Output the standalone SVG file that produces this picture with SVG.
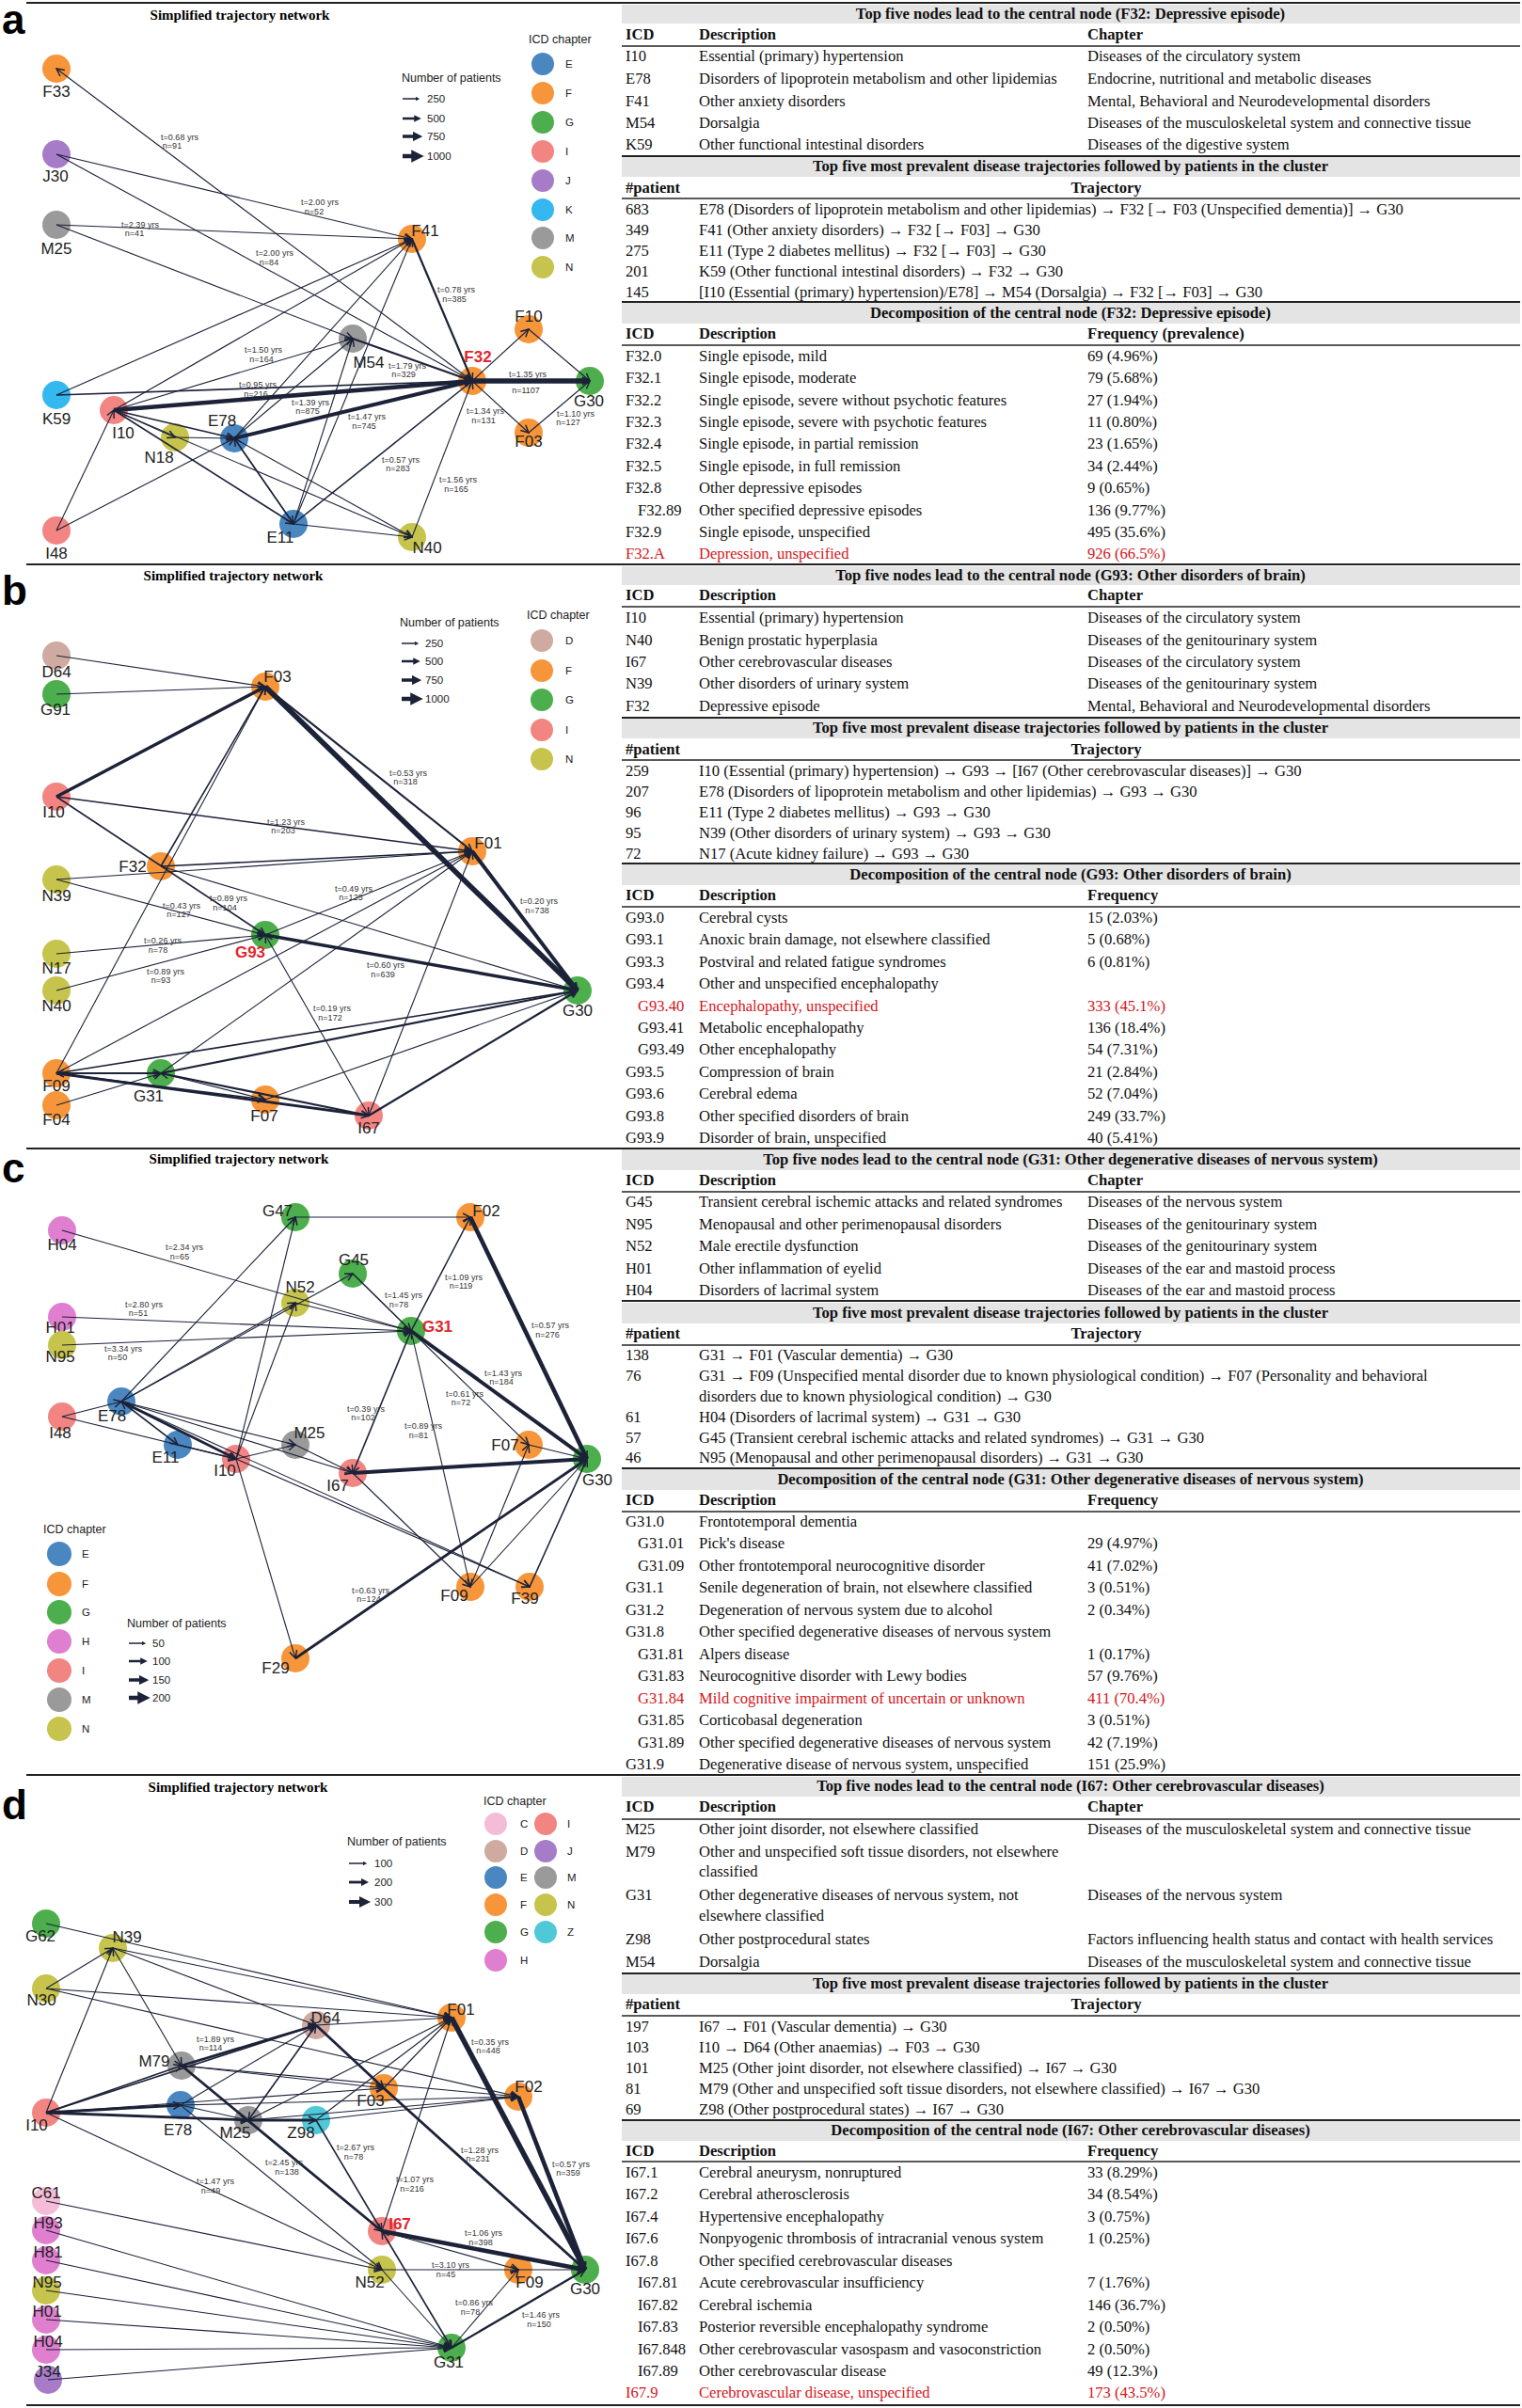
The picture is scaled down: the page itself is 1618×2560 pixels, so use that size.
<svg xmlns="http://www.w3.org/2000/svg" width="1618" height="2560" viewBox="0 0 1618 2560">
<style>
.bg{fill:#fff}
.e{stroke:#1c2238;fill:none;marker-end:url(#ar)}
.d{marker-start:url(#ar)}
.w1{stroke-width:1.1}.w15{stroke-width:1.6}.w2{stroke-width:2.2}.w25{stroke-width:2.8}.w3{stroke-width:3.4}.w35{stroke-width:4}.w4{stroke-width:4.6}.w5{stroke-width:5.6}
.nl{font-family:"Liberation Sans",Arial,sans-serif;font-size:17px;fill:#222;text-anchor:middle}
.red{fill:#e0262c;font-weight:bold}
.el{font-family:"Liberation Sans",Arial,sans-serif;font-size:9px;fill:#333;text-anchor:middle}
.lg{font-family:"Liberation Sans",Arial,sans-serif;font-size:11.5px;fill:#222}
.lgt{font-family:"Liberation Sans",Arial,sans-serif;font-size:12.5px;fill:#222}
.la{stroke:#1c2238;marker-end:url(#al)}
.pl{font-family:"Liberation Sans",Arial,sans-serif;font-size:44px;font-weight:bold;fill:#000}
.st{font-family:"Liberation Serif","Times New Roman",serif;font-size:15px;font-weight:bold;fill:#000;text-anchor:middle}
.t{font-family:"Liberation Serif","Times New Roman",serif;font-size:16.6px;fill:#111}
.tb{font-family:"Liberation Serif","Times New Roman",serif;font-size:16.6px;fill:#111;font-weight:bold}
.tc{text-anchor:middle}
.r{fill:#d4161c}
.band{fill:#e4e4e4}
.hl{stroke:#222;stroke-width:1.6}
.sep{stroke:#222;stroke-width:2}
.cE{fill:#4a86c0}.cF{fill:#f7953a}.cG{fill:#4cae4c}.cI{fill:#f28482}.cJ{fill:#a67cc9}.cK{fill:#35b8f0}.cM{fill:#9a9a9a}.cN{fill:#c6c44c}.cD{fill:#cfaaa0}.cH{fill:#e07fcf}.cC{fill:#f5bcd8}.cZ{fill:#4fc8d8}
</style>
<defs>
<marker id="ar" viewBox="0 0 10 10" refX="9" refY="5" markerWidth="10" markerHeight="10" markerUnits="userSpaceOnUse" orient="auto-start-reverse"><path d="M1,1 L9,5 L1,9" fill="none" stroke="#1c2238" stroke-width="1.5"/></marker>
<marker id="al" viewBox="0 0 10 10" refX="5" refY="5" markerWidth="3" markerHeight="3" orient="auto"><path d="M0,0 L10,5 L0,10 z" fill="#1c2238"/></marker>
</defs>
<rect class="bg" x="0" y="0" width="1618" height="2560"/>

<g id="separators">
<line class="sep" x1="28" y1="3" x2="1616" y2="3"/>
<line class="sep" x1="28" y1="600" x2="1616" y2="600"/>
<line class="sep" x1="28" y1="1221" x2="1616" y2="1221"/>
<line class="sep" x1="28" y1="1887" x2="1616" y2="1887"/>
<line class="sep" x1="28" y1="2557" x2="1616" y2="2557"/>
</g>

<g id="panel-a">
<text class="pl" x="2" y="36">a</text>
<text class="st" x="255" y="21">Simplified trajectory network</text>
<g id="a-nodes">
<g id="a-F33"><circle class="cF" cx="60" cy="73" r="15"/><text class="nl" x="60" y="103">F33</text></g>
<g id="a-J30"><circle class="cJ" cx="60" cy="164" r="15"/><text class="nl" x="59" y="193">J30</text></g>
<g id="a-M25"><circle class="cM" cx="60" cy="239" r="15"/><text class="nl" x="60" y="270">M25</text></g>
<g id="a-K59"><circle class="cK" cx="60" cy="420" r="15"/><text class="nl" x="60" y="451">K59</text></g>
<g id="a-I10"><circle class="cI" cx="121" cy="436" r="15"/><text class="nl" x="131" y="466">I10</text></g>
<g id="a-N18"><circle class="cN" cx="186" cy="465" r="15"/><text class="nl" x="169" y="492">N18</text></g>
<g id="a-E78"><circle class="cE" cx="249" cy="466" r="15"/><text class="nl" x="236" y="453">E78</text></g>
<g id="a-I48"><circle class="cI" cx="60" cy="564" r="15"/><text class="nl" x="60" y="594">I48</text></g>
<g id="a-E11"><circle class="cE" cx="312" cy="557" r="15"/><text class="nl" x="298" y="577">E11</text></g>
<g id="a-N40"><circle class="cN" cx="438" cy="571" r="15"/><text class="nl" x="454" y="588">N40</text></g>
<g id="a-M54"><circle class="cM" cx="375" cy="360" r="15"/><text class="nl" x="392" y="391">M54</text></g>
<g id="a-F41"><circle class="cF" cx="438" cy="254" r="15"/><text class="nl" x="452" y="251">F41</text></g>
<g id="a-F32"><circle class="cF" cx="502" cy="405" r="15"/><text class="nl red" x="508" y="385">F32</text></g>
<g id="a-F10"><circle class="cF" cx="562" cy="350" r="15"/><text class="nl" x="562" y="342">F10</text></g>
<g id="a-F03"><circle class="cF" cx="562" cy="460" r="15"/><text class="nl" x="562" y="475">F03</text></g>
<g id="a-G30"><circle class="cG" cx="627" cy="405" r="15"/><text class="nl" x="626" y="432">G30</text></g>
</g>
<g id="a-connectors">
<line class="e w1" x1="502" y1="405" x2="60" y2="73"/>
<line class="e w1" x1="60" y1="164" x2="438" y2="254"/>
<line class="e w1" x1="60" y1="164" x2="502" y2="405"/>
<line class="e w1" x1="60" y1="239" x2="438" y2="254"/>
<line class="e w1" x1="60" y1="239" x2="375" y2="360"/>
<line class="e w1" x1="60" y1="420" x2="438" y2="254"/>
<line class="e w15" x1="60" y1="420" x2="502" y2="405"/>
<line class="e w1" x1="121" y1="436" x2="438" y2="254"/>
<line class="e w1" x1="121" y1="436" x2="375" y2="360"/>
<line class="e w4" x1="121" y1="436" x2="502" y2="405"/>
<line class="e w1" x1="121" y1="436" x2="186" y2="465"/>
<line class="e w15" x1="121" y1="436" x2="249" y2="466"/>
<line class="e w15" x1="121" y1="436" x2="312" y2="557"/>
<line class="e w1" x1="121" y1="436" x2="438" y2="571"/>
<line class="e w1" x1="186" y1="465" x2="249" y2="466"/>
<line class="e w1" x1="60" y1="564" x2="121" y2="436"/>
<line class="e w1" x1="60" y1="564" x2="249" y2="466"/>
<line class="e w35" x1="249" y1="466" x2="502" y2="405"/>
<line class="e w1" x1="249" y1="466" x2="375" y2="360"/>
<line class="e w1" x1="249" y1="466" x2="438" y2="254"/>
<line class="e w15" x1="249" y1="466" x2="312" y2="557"/>
<line class="e w1" x1="249" y1="466" x2="438" y2="571"/>
<line class="e w1" x1="312" y1="557" x2="438" y2="254"/>
<line class="e w1" x1="312" y1="557" x2="375" y2="360"/>
<line class="e w15" x1="312" y1="557" x2="502" y2="405"/>
<line class="e w1" x1="312" y1="557" x2="438" y2="571"/>
<line class="e w1" x1="312" y1="557" x2="249" y2="466"/>
<line class="e w2" x1="375" y1="360" x2="502" y2="405"/>
<line class="e w2" x1="438" y1="254" x2="502" y2="405"/>
<line class="e w1" x1="438" y1="571" x2="502" y2="405"/>
<line class="e w1" x1="502" y1="405" x2="562" y2="350"/>
<line class="e w1" x1="502" y1="405" x2="562" y2="460"/>
<line class="e w5" x1="502" y1="405" x2="627" y2="405"/>
<line class="e w1" x1="562" y1="350" x2="627" y2="405"/>
<line class="e w1" x1="562" y1="460" x2="627" y2="405"/>
</g>
<g id="a-edge-labels">
<text class="el" x="191" y="149">t=0.68 yrs</text><text class="el" x="183" y="158">n=91</text>
<text class="el" x="340" y="218">t=2.00 yrs</text><text class="el" x="334" y="228">n=52</text>
<text class="el" x="149" y="242">t=2.39 yrs</text><text class="el" x="143" y="251">n=41</text>
<text class="el" x="292" y="272">t=2.00 yrs</text><text class="el" x="286" y="282">n=84</text>
<text class="el" x="485" y="311">t=0.78 yrs</text><text class="el" x="483" y="321">n=385</text>
<text class="el" x="280" y="375">t=1.50 yrs</text><text class="el" x="278" y="385">n=164</text>
<text class="el" x="433" y="392">t=1.79 yrs</text><text class="el" x="429" y="401">n=329</text>
<text class="el" x="274" y="412">t=0.95 yrs</text><text class="el" x="272" y="422">n=216</text>
<text class="el" x="330" y="431">t=1.39 yrs</text><text class="el" x="327" y="440">n=875</text>
<text class="el" x="561" y="401">t=1.35 yrs</text><text class="el" x="559" y="418">n=1107</text>
<text class="el" x="390" y="446">t=1.47 yrs</text><text class="el" x="387" y="456">n=745</text>
<text class="el" x="516" y="440">t=1.34 yrs</text><text class="el" x="514" y="450">n=131</text>
<text class="el" x="612" y="443">t=1.10 yrs</text><text class="el" x="604" y="452">n=127</text>
<text class="el" x="426" y="492">t=0.57 yrs</text><text class="el" x="423" y="501">n=283</text>
<text class="el" x="487" y="513">t=1.56 yrs</text><text class="el" x="485" y="523">n=165</text>
</g>
<g id="a-legend">
<text class="lgt" x="427" y="87">Number of patients</text>
<line class="la" x1="428" y1="105" x2="444" y2="105" stroke-width="1.5"/><text class="lg" x="454" y="109">250</text>
<line class="la" x1="428" y1="126" x2="444" y2="126" stroke-width="2.5"/><text class="lg" x="454" y="130">500</text>
<line class="la" x1="428" y1="145" x2="444" y2="145" stroke-width="3.5"/><text class="lg" x="454" y="149">750</text>
<line class="la" x1="428" y1="166" x2="444" y2="166" stroke-width="4.5"/><text class="lg" x="454" y="170">1000</text>
<text class="lgt" x="562" y="46">ICD chapter</text>
<circle class="cE" cx="577" cy="68" r="12"/><text class="lg" x="601" y="72">E</text>
<circle class="cF" cx="577" cy="99" r="12"/><text class="lg" x="601" y="103">F</text>
<circle class="cG" cx="577" cy="130" r="12"/><text class="lg" x="601" y="134">G</text>
<circle class="cI" cx="577" cy="161" r="12"/><text class="lg" x="601" y="165">I</text>
<circle class="cJ" cx="577" cy="192" r="12"/><text class="lg" x="601" y="196">J</text>
<circle class="cK" cx="577" cy="223" r="12"/><text class="lg" x="601" y="227">K</text>
<circle class="cM" cx="577" cy="253" r="12"/><text class="lg" x="601" y="257">M</text>
<circle class="cN" cx="577" cy="284" r="12"/><text class="lg" x="601" y="288">N</text>
</g>
</g>

<g id="table-a">
<rect class="band" x="661" y="5" width="955" height="20"/>
<text class="tb tc" x="1138" y="20">Top five nodes lead to the central node (F32: Depressive episode)</text>
<text class="tb" x="665" y="42">ICD</text><text class="tb" x="743" y="42">Description</text><text class="tb" x="1156" y="42">Chapter</text>
<line class="hl" x1="661" y1="49" x2="1616" y2="49"/>
<text class="t" x="665" y="65">I10</text><text class="t" x="743" y="65">Essential (primary) hypertension</text><text class="t" x="1156" y="65">Diseases of the circulatory system</text>
<text class="t" x="665" y="89">E78</text><text class="t" x="743" y="89">Disorders of lipoprotein metabolism and other lipidemias</text><text class="t" x="1156" y="89">Endocrine, nutritional and metabolic diseases</text>
<text class="t" x="665" y="113">F41</text><text class="t" x="743" y="113">Other anxiety disorders</text><text class="t" x="1156" y="113">Mental, Behavioral and Neurodevelopmental disorders</text>
<text class="t" x="665" y="136">M54</text><text class="t" x="743" y="136">Dorsalgia</text><text class="t" x="1156" y="136">Diseases of the musculoskeletal system and connective tissue</text>
<text class="t" x="665" y="159">K59</text><text class="t" x="743" y="159">Other functional intestinal disorders</text><text class="t" x="1156" y="159">Diseases of the digestive system</text>
<line class="sep" x1="661" y1="166" x2="1616" y2="166"/>
<rect class="band" x="661" y="167" width="955" height="21"/>
<text class="tb tc" x="1138" y="182">Top five most prevalent disease trajectories followed by patients in the cluster</text>
<text class="tb" x="665" y="205">#patient</text><text class="tb tc" x="1176" y="205">Trajectory</text>
<line class="hl" x1="661" y1="211" x2="1616" y2="211"/>
<text class="t" x="665" y="228">683</text><text class="t" x="743" y="228">E78 (Disorders of lipoprotein metabolism and other lipidemias) → F32 [→ F03 (Unspecified dementia)] → G30</text>
<text class="t" x="665" y="250">349</text><text class="t" x="743" y="250">F41 (Other anxiety disorders) → F32 [→ F03] → G30</text>
<text class="t" x="665" y="272">275</text><text class="t" x="743" y="272">E11 (Type 2 diabetes mellitus) → F32 [→ F03] → G30</text>
<text class="t" x="665" y="294">201</text><text class="t" x="743" y="294">K59 (Other functional intestinal disorders) → F32 → G30</text>
<text class="t" x="665" y="316">145</text><text class="t" x="743" y="316">[I10 (Essential (primary) hypertension)/E78] → M54 (Dorsalgia) → F32 [→ F03] → G30</text>
<line class="sep" x1="661" y1="321" x2="1616" y2="321"/>
<rect class="band" x="661" y="322" width="955" height="22"/>
<text class="tb tc" x="1138" y="338">Decomposition of the central node (F32: Depressive episode)</text>
<text class="tb" x="665" y="360">ICD</text><text class="tb" x="743" y="360">Description</text><text class="tb" x="1156" y="360">Frequency (prevalence)</text>
<line class="hl" x1="661" y1="367" x2="1616" y2="367"/>
<text class="t" x="665" y="384">F32.0</text><text class="t" x="743" y="384">Single episode, mild</text><text class="t" x="1156" y="384">69 (4.96%)</text>
<text class="t" x="665" y="407">F32.1</text><text class="t" x="743" y="407">Single episode, moderate</text><text class="t" x="1156" y="407">79 (5.68%)</text>
<text class="t" x="665" y="431">F32.2</text><text class="t" x="743" y="431">Single episode, severe without psychotic features</text><text class="t" x="1156" y="431">27 (1.94%)</text>
<text class="t" x="665" y="454">F32.3</text><text class="t" x="743" y="454">Single episode, severe with psychotic features</text><text class="t" x="1156" y="454">11 (0.80%)</text>
<text class="t" x="665" y="477">F32.4</text><text class="t" x="743" y="477">Single episode, in partial remission</text><text class="t" x="1156" y="477">23 (1.65%)</text>
<text class="t" x="665" y="501">F32.5</text><text class="t" x="743" y="501">Single episode, in full remission</text><text class="t" x="1156" y="501">34 (2.44%)</text>
<text class="t" x="665" y="524">F32.8</text><text class="t" x="743" y="524">Other depressive episodes</text><text class="t" x="1156" y="524">9 (0.65%)</text>
<text class="t" x="678" y="548">F32.89</text><text class="t" x="743" y="548">Other specified depressive episodes</text><text class="t" x="1156" y="548">136 (9.77%)</text>
<text class="t" x="665" y="571">F32.9</text><text class="t" x="743" y="571">Single episode, unspecified</text><text class="t" x="1156" y="571">495 (35.6%)</text>
<text class="t r" x="665" y="594">F32.A</text><text class="t r" x="743" y="594">Depression, unspecified</text><text class="t r" x="1156" y="594">926 (66.5%)</text>
</g>

<g id="panel-b">
<text class="pl" x="2" y="643">b</text>
<text class="st" x="248" y="617">Simplified trajectory network</text>
<g id="b-nodes">
<g id="b-D64"><circle class="cD" cx="60" cy="697" r="15"/><text class="nl" x="60" y="720">D64</text></g>
<g id="b-G91"><circle class="cG" cx="60" cy="738" r="15"/><text class="nl" x="59" y="760">G91</text></g>
<g id="b-F03"><circle class="cF" cx="282" cy="730" r="15"/><text class="nl" x="295" y="725">F03</text></g>
<g id="b-I10"><circle class="cI" cx="60" cy="847" r="15"/><text class="nl" x="57" y="869">I10</text></g>
<g id="b-F32"><circle class="cF" cx="171" cy="921" r="15"/><text class="nl" x="141" y="927">F32</text></g>
<g id="b-N39"><circle class="cN" cx="60" cy="935" r="15"/><text class="nl" x="60" y="958">N39</text></g>
<g id="b-F01"><circle class="cF" cx="502" cy="905" r="15"/><text class="nl" x="519" y="902">F01</text></g>
<g id="b-G93"><circle class="cG" cx="282" cy="994" r="15"/><text class="nl red" x="266" y="1018">G93</text></g>
<g id="b-N17"><circle class="cN" cx="60" cy="1014" r="15"/><text class="nl" x="60" y="1035">N17</text></g>
<g id="b-N40"><circle class="cN" cx="60" cy="1053" r="15"/><text class="nl" x="60" y="1075">N40</text></g>
<g id="b-G30"><circle class="cG" cx="614" cy="1053" r="15"/><text class="nl" x="614" y="1080">G30</text></g>
<g id="b-F09"><circle class="cF" cx="60" cy="1141" r="15"/><text class="nl" x="60" y="1160">F09</text></g>
<g id="b-F04"><circle class="cF" cx="60" cy="1175" r="15"/><text class="nl" x="60" y="1196">F04</text></g>
<g id="b-G31"><circle class="cG" cx="171" cy="1141" r="15"/><text class="nl" x="158" y="1171">G31</text></g>
<g id="b-F07"><circle class="cF" cx="282" cy="1169" r="15"/><text class="nl" x="281" y="1192">F07</text></g>
<g id="b-I67"><circle class="cI" cx="392" cy="1186" r="15"/><text class="nl" x="392" y="1205">I67</text></g>
</g>
<g id="b-connectors">
<line class="e w1" x1="60" y1="697" x2="282" y2="730"/>
<line class="e w1" x1="60" y1="738" x2="282" y2="730"/>
<line class="e w3" x1="60" y1="847" x2="282" y2="730"/>
<line class="e w15" x1="60" y1="847" x2="502" y2="905"/>
<line class="e w15" x1="60" y1="847" x2="282" y2="994"/>
<line class="e w15" x1="171" y1="921" x2="282" y2="730"/>
<line class="e w1" x1="60" y1="1141" x2="282" y2="730"/>
<line class="e w15" x1="171" y1="921" x2="502" y2="905"/>
<line class="e w1" x1="60" y1="935" x2="502" y2="905"/>
<line class="e w1" x1="60" y1="935" x2="282" y2="994"/>
<line class="e w1" x1="171" y1="921" x2="614" y2="1053"/>
<line class="e w5" x1="282" y1="730" x2="614" y2="1053"/>
<line class="e w2" x1="282" y1="730" x2="502" y2="905"/>
<line class="e w35" x1="502" y1="905" x2="614" y2="1053"/>
<line class="e w1" x1="282" y1="994" x2="502" y2="905"/>
<line class="e w3" x1="282" y1="994" x2="614" y2="1053"/>
<line class="e d w1" x1="282" y1="994" x2="392" y2="1186"/>
<line class="e w1" x1="60" y1="1014" x2="282" y2="994"/>
<line class="e w1" x1="60" y1="1053" x2="282" y2="994"/>
<line class="e w1" x1="60" y1="1141" x2="502" y2="905"/>
<line class="e w1" x1="171" y1="1141" x2="502" y2="905"/>
<line class="e w1" x1="392" y1="1186" x2="502" y2="905"/>
<line class="e w15" x1="60" y1="1141" x2="614" y2="1053"/>
<line class="e w2" x1="171" y1="1141" x2="614" y2="1053"/>
<line class="e w1" x1="282" y1="1169" x2="614" y2="1053"/>
<line class="e w2" x1="392" y1="1186" x2="614" y2="1053"/>
<line class="e d w2" x1="60" y1="1141" x2="171" y2="1141"/>
<line class="e w15" x1="60" y1="1141" x2="282" y2="1169"/>
<line class="e w25" x1="60" y1="1141" x2="392" y2="1186"/>
<line class="e w2" x1="392" y1="1186" x2="171" y2="1141"/>
<line class="e w1" x1="171" y1="1141" x2="282" y2="1169"/>
<line class="e w1" x1="60" y1="1175" x2="171" y2="1141"/>
</g>
<g id="b-edge-labels">
<text class="el" x="434" y="825">t=0.53 yrs</text><text class="el" x="431" y="834">n=318</text>
<text class="el" x="304" y="877">t=1.23 yrs</text><text class="el" x="301" y="886">n=203</text>
<text class="el" x="376" y="948">t=0.49 yrs</text><text class="el" x="373" y="957">n=125</text>
<text class="el" x="573" y="961">t=0.20 yrs</text><text class="el" x="571" y="971">n=738</text>
<text class="el" x="193" y="966">t=0.43 yrs</text><text class="el" x="190" y="975">n=127</text>
<text class="el" x="243" y="958">t=0.89 yrs</text><text class="el" x="239" y="968">n=104</text>
<text class="el" x="173" y="1003">t=0.26 yrs</text><text class="el" x="168" y="1013">n=78</text>
<text class="el" x="410" y="1029">t=0.60 yrs</text><text class="el" x="407" y="1039">n=639</text>
<text class="el" x="176" y="1036">t=0.89 yrs</text><text class="el" x="171" y="1045">n=93</text>
<text class="el" x="353" y="1075">t=0.19 yrs</text><text class="el" x="351" y="1085">n=172</text>
</g>
<g id="b-legend">
<text class="lgt" x="425" y="666">Number of patients</text>
<line class="la" x1="427" y1="684" x2="443" y2="684" stroke-width="1.5"/><text class="lg" x="452" y="688">250</text>
<line class="la" x1="427" y1="703" x2="443" y2="703" stroke-width="2.5"/><text class="lg" x="452" y="707">500</text>
<line class="la" x1="427" y1="723" x2="443" y2="723" stroke-width="3.5"/><text class="lg" x="452" y="727">750</text>
<line class="la" x1="427" y1="743" x2="443" y2="743" stroke-width="4.5"/><text class="lg" x="452" y="747">1000</text>
<text class="lgt" x="560" y="658">ICD chapter</text>
<circle class="cD" cx="576" cy="681" r="12"/><text class="lg" x="601" y="685">D</text>
<circle class="cF" cx="576" cy="713" r="12"/><text class="lg" x="601" y="717">F</text>
<circle class="cG" cx="576" cy="744" r="12"/><text class="lg" x="601" y="748">G</text>
<circle class="cI" cx="576" cy="776" r="12"/><text class="lg" x="601" y="780">I</text>
<circle class="cN" cx="576" cy="807" r="12"/><text class="lg" x="601" y="811">N</text>
</g>
</g>

<g id="table-b">
<rect class="band" x="661" y="602" width="955" height="20"/>
<text class="tb tc" x="1138" y="617">Top five nodes lead to the central node (G93: Other disorders of brain)</text>
<text class="tb" x="665" y="638">ICD</text><text class="tb" x="743" y="638">Description</text><text class="tb" x="1156" y="638">Chapter</text>
<line class="hl" x1="661" y1="645" x2="1616" y2="645"/>
<text class="t" x="665" y="662">I10</text><text class="t" x="743" y="662">Essential (primary) hypertension</text><text class="t" x="1156" y="662">Diseases of the circulatory system</text>
<text class="t" x="665" y="686">N40</text><text class="t" x="743" y="686">Benign prostatic hyperplasia</text><text class="t" x="1156" y="686">Diseases of the genitourinary system</text>
<text class="t" x="665" y="709">I67</text><text class="t" x="743" y="709">Other cerebrovascular diseases</text><text class="t" x="1156" y="709">Diseases of the circulatory system</text>
<text class="t" x="665" y="732">N39</text><text class="t" x="743" y="732">Other disorders of urinary system</text><text class="t" x="1156" y="732">Diseases of the genitourinary system</text>
<text class="t" x="665" y="756">F32</text><text class="t" x="743" y="756">Depressive episode</text><text class="t" x="1156" y="756">Mental, Behavioral and Neurodevelopmental disorders</text>
<line class="sep" x1="661" y1="763" x2="1616" y2="763"/>
<rect class="band" x="661" y="764" width="955" height="21"/>
<text class="tb tc" x="1138" y="779">Top five most prevalent disease trajectories followed by patients in the cluster</text>
<text class="tb" x="665" y="802">#patient</text><text class="tb tc" x="1176" y="802">Trajectory</text>
<line class="hl" x1="661" y1="808" x2="1616" y2="808"/>
<text class="t" x="665" y="825">259</text><text class="t" x="743" y="825">I10 (Essential (primary) hypertension) → G93 → [I67 (Other cerebrovascular diseases)] → G30</text>
<text class="t" x="665" y="847">207</text><text class="t" x="743" y="847">E78 (Disorders of lipoprotein metabolism and other lipidemias) → G93 → G30</text>
<text class="t" x="665" y="869">96</text><text class="t" x="743" y="869">E11 (Type 2 diabetes mellitus) → G93 → G30</text>
<text class="t" x="665" y="891">95</text><text class="t" x="743" y="891">N39 (Other disorders of urinary system) → G93 → G30</text>
<text class="t" x="665" y="913">72</text><text class="t" x="743" y="913">N17 (Acute kidney failure) → G93 → G30</text>
<line class="sep" x1="661" y1="918" x2="1616" y2="918"/>
<rect class="band" x="661" y="919" width="955" height="22"/>
<text class="tb tc" x="1138" y="935">Decomposition of the central node (G93: Other disorders of brain)</text>
<text class="tb" x="665" y="957">ICD</text><text class="tb" x="743" y="957">Description</text><text class="tb" x="1156" y="957">Frequency</text>
<line class="hl" x1="661" y1="964" x2="1616" y2="964"/>
<text class="t" x="665" y="981">G93.0</text><text class="t" x="743" y="981">Cerebral cysts</text><text class="t" x="1156" y="981">15 (2.03%)</text>
<text class="t" x="665" y="1004">G93.1</text><text class="t" x="743" y="1004">Anoxic brain damage, not elsewhere classified</text><text class="t" x="1156" y="1004">5 (0.68%)</text>
<text class="t" x="665" y="1028">G93.3</text><text class="t" x="743" y="1028">Postviral and related fatigue syndromes</text><text class="t" x="1156" y="1028">6 (0.81%)</text>
<text class="t" x="665" y="1051">G93.4</text><text class="t" x="743" y="1051">Other and unspecified encephalopathy</text>
<text class="t r" x="678" y="1075">G93.40</text><text class="t r" x="743" y="1075">Encephalopathy, unspecified</text><text class="t r" x="1156" y="1075">333 (45.1%)</text>
<text class="t" x="678" y="1098">G93.41</text><text class="t" x="743" y="1098">Metabolic encephalopathy</text><text class="t" x="1156" y="1098">136 (18.4%)</text>
<text class="t" x="678" y="1121">G93.49</text><text class="t" x="743" y="1121">Other encephalopathy</text><text class="t" x="1156" y="1121">54 (7.31%)</text>
<text class="t" x="665" y="1145">G93.5</text><text class="t" x="743" y="1145">Compression of brain</text><text class="t" x="1156" y="1145">21 (2.84%)</text>
<text class="t" x="665" y="1168">G93.6</text><text class="t" x="743" y="1168">Cerebral edema</text><text class="t" x="1156" y="1168">52 (7.04%)</text>
<text class="t" x="665" y="1192">G93.8</text><text class="t" x="743" y="1192">Other specified disorders of brain</text><text class="t" x="1156" y="1192">249 (33.7%)</text>
<text class="t" x="665" y="1215">G93.9</text><text class="t" x="743" y="1215">Disorder of brain, unspecified</text><text class="t" x="1156" y="1215">40 (5.41%)</text>
</g>

<g id="panel-c">
<text class="pl" x="2" y="1257">c</text>
<text class="st" x="254" y="1237">Simplified trajectory network</text>
<g id="c-nodes">
<g id="c-H04"><circle class="cH" cx="66" cy="1308" r="15"/><text class="nl" x="66" y="1329">H04</text></g>
<g id="c-H01"><circle class="cH" cx="66" cy="1400" r="15"/><text class="nl" x="64" y="1417">H01</text></g>
<g id="c-N95"><circle class="cN" cx="66" cy="1430" r="15"/><text class="nl" x="64" y="1448">N95</text></g>
<g id="c-I48"><circle class="cI" cx="66" cy="1506" r="15"/><text class="nl" x="64" y="1529">I48</text></g>
<g id="c-E78"><circle class="cE" cx="129" cy="1490" r="15"/><text class="nl" x="119" y="1511">E78</text></g>
<g id="c-E11"><circle class="cE" cx="189" cy="1536" r="15"/><text class="nl" x="176" y="1555">E11</text></g>
<g id="c-I10"><circle class="cI" cx="251" cy="1551" r="15"/><text class="nl" x="239" y="1569">I10</text></g>
<g id="c-M25"><circle class="cM" cx="314" cy="1536" r="15"/><text class="nl" x="329" y="1529">M25</text></g>
<g id="c-I67"><circle class="cI" cx="375" cy="1566" r="15"/><text class="nl" x="359" y="1585">I67</text></g>
<g id="c-G47"><circle class="cG" cx="314" cy="1294" r="15"/><text class="nl" x="295" y="1293">G47</text></g>
<g id="c-F02"><circle class="cF" cx="500" cy="1294" r="15"/><text class="nl" x="517" y="1293">F02</text></g>
<g id="c-G45"><circle class="cG" cx="375" cy="1354" r="15"/><text class="nl" x="376" y="1345">G45</text></g>
<g id="c-N52"><circle class="cN" cx="314" cy="1385" r="15"/><text class="nl" x="319" y="1374">N52</text></g>
<g id="c-G31"><circle class="cG" cx="437" cy="1415" r="15"/><text class="nl red" x="465" y="1416">G31</text></g>
<g id="c-F07"><circle class="cF" cx="562" cy="1536" r="15"/><text class="nl" x="537" y="1542">F07</text></g>
<g id="c-G30"><circle class="cG" cx="624" cy="1551" r="15"/><text class="nl" x="635" y="1579">G30</text></g>
<g id="c-F09"><circle class="cF" cx="500" cy="1687" r="15"/><text class="nl" x="483" y="1702">F09</text></g>
<g id="c-F39"><circle class="cF" cx="563" cy="1687" r="15"/><text class="nl" x="558" y="1705">F39</text></g>
<g id="c-F29"><circle class="cF" cx="314" cy="1763" r="15"/><text class="nl" x="293" y="1779">F29</text></g>
</g>
<g id="c-connectors">
<line class="e w1" x1="66" y1="1308" x2="437" y2="1415"/>
<line class="e w1" x1="66" y1="1400" x2="437" y2="1415"/>
<line class="e w1" x1="66" y1="1430" x2="437" y2="1415"/>
<line class="e w1" x1="314" y1="1294" x2="500" y2="1294"/>
<line class="e w4" x1="500" y1="1294" x2="624" y2="1551"/>
<line class="e w15" x1="375" y1="1354" x2="437" y2="1415"/>
<line class="e w1" x1="314" y1="1385" x2="437" y2="1415"/>
<line class="e w1" x1="129" y1="1490" x2="375" y2="1354"/>
<line class="e w1" x1="129" y1="1490" x2="314" y2="1385"/>
<line class="e w1" x1="129" y1="1490" x2="314" y2="1294"/>
<line class="e w1" x1="251" y1="1551" x2="314" y2="1294"/>
<line class="e w1" x1="251" y1="1551" x2="314" y2="1385"/>
<line class="e w15" x1="437" y1="1415" x2="500" y2="1294"/>
<line class="e w35" x1="437" y1="1415" x2="624" y2="1551"/>
<line class="e w1" x1="437" y1="1415" x2="562" y2="1536"/>
<line class="e w1" x1="562" y1="1536" x2="624" y2="1551"/>
<line class="e d w15" x1="437" y1="1415" x2="375" y2="1566"/>
<line class="e w1" x1="437" y1="1415" x2="500" y2="1687"/>
<line class="e w35" x1="375" y1="1566" x2="624" y2="1551"/>
<line class="e w1" x1="375" y1="1566" x2="500" y2="1687"/>
<line class="e w1" x1="66" y1="1506" x2="129" y2="1490"/>
<line class="e w1" x1="66" y1="1506" x2="251" y2="1551"/>
<line class="e d w15" x1="129" y1="1490" x2="189" y2="1536"/>
<line class="e w25" x1="129" y1="1490" x2="251" y2="1551"/>
<line class="e w1" x1="129" y1="1490" x2="314" y2="1536"/>
<line class="e w1" x1="129" y1="1490" x2="375" y2="1566"/>
<line class="e w1" x1="129" y1="1490" x2="563" y2="1687"/>
<line class="e w15" x1="189" y1="1536" x2="251" y2="1551"/>
<line class="e w1" x1="251" y1="1551" x2="314" y2="1536"/>
<line class="e w1" x1="251" y1="1551" x2="314" y2="1763"/>
<line class="e w1" x1="251" y1="1551" x2="563" y2="1687"/>
<line class="e w1" x1="314" y1="1536" x2="375" y2="1566"/>
<line class="e w1" x1="500" y1="1687" x2="562" y2="1536"/>
<line class="e w1" x1="500" y1="1687" x2="624" y2="1551"/>
<line class="e w15" x1="563" y1="1687" x2="624" y2="1551"/>
<line class="e w25" x1="314" y1="1763" x2="624" y2="1551"/>
</g>
<g id="c-edge-labels">
<text class="el" x="196" y="1329">t=2.34 yrs</text><text class="el" x="191" y="1339">n=65</text>
<text class="el" x="153" y="1390">t=2.80 yrs</text><text class="el" x="147" y="1399">n=51</text>
<text class="el" x="131" y="1437">t=3.34 yrs</text><text class="el" x="125" y="1446">n=50</text>
<text class="el" x="429" y="1380">t=1.45 yrs</text><text class="el" x="424" y="1390">n=78</text>
<text class="el" x="493" y="1361">t=1.09 yrs</text><text class="el" x="490" y="1370">n=119</text>
<text class="el" x="585" y="1412">t=0.57 yrs</text><text class="el" x="582" y="1422">n=276</text>
<text class="el" x="535" y="1463">t=1.43 yrs</text><text class="el" x="533" y="1472">n=184</text>
<text class="el" x="494" y="1485">t=0.61 yrs</text><text class="el" x="490" y="1494">n=72</text>
<text class="el" x="389" y="1501">t=0.39 yrs</text><text class="el" x="386" y="1510">n=102</text>
<text class="el" x="450" y="1519">t=0.89 yrs</text><text class="el" x="445" y="1529">n=81</text>
<text class="el" x="394" y="1694">t=0.63 yrs</text><text class="el" x="392" y="1703">n=124</text>
</g>
<g id="c-legend">
<text class="lgt" x="46" y="1630">ICD chapter</text>
<circle class="cE" cx="63" cy="1652" r="13"/><text class="lg" x="87" y="1656">E</text>
<circle class="cF" cx="63" cy="1684" r="13"/><text class="lg" x="87" y="1688">F</text>
<circle class="cG" cx="63" cy="1714" r="13"/><text class="lg" x="87" y="1718">G</text>
<circle class="cH" cx="63" cy="1745" r="13"/><text class="lg" x="87" y="1749">H</text>
<circle class="cI" cx="63" cy="1776" r="13"/><text class="lg" x="87" y="1780">I</text>
<circle class="cM" cx="63" cy="1807" r="13"/><text class="lg" x="87" y="1811">M</text>
<circle class="cN" cx="63" cy="1838" r="13"/><text class="lg" x="87" y="1842">N</text>
<text class="lgt" x="135" y="1730">Number of patients</text>
<line class="la" x1="137" y1="1747" x2="153" y2="1747" stroke-width="1.5"/><text class="lg" x="162" y="1751">50</text>
<line class="la" x1="137" y1="1766" x2="153" y2="1766" stroke-width="2.5"/><text class="lg" x="162" y="1770">100</text>
<line class="la" x1="137" y1="1786" x2="153" y2="1786" stroke-width="3.5"/><text class="lg" x="162" y="1790">150</text>
<line class="la" x1="137" y1="1805" x2="153" y2="1805" stroke-width="4.5"/><text class="lg" x="162" y="1809">200</text>
</g>
</g>

<g id="table-c">
<rect class="band" x="661" y="1222" width="955" height="22"/>
<text class="tb tc" x="1138" y="1238">Top five nodes lead to the central node (G31: Other degenerative diseases of nervous system)</text>
<text class="tb" x="665" y="1260">ICD</text><text class="tb" x="743" y="1260">Description</text><text class="tb" x="1156" y="1260">Chapter</text>
<line class="hl" x1="661" y1="1267" x2="1616" y2="1267"/>
<text class="t" x="665" y="1283">G45</text><text class="t" x="743" y="1283">Transient cerebral ischemic attacks and related syndromes</text><text class="t" x="1156" y="1283">Diseases of the nervous system</text>
<text class="t" x="665" y="1307">N95</text><text class="t" x="743" y="1307">Menopausal and other perimenopausal disorders</text><text class="t" x="1156" y="1307">Diseases of the genitourinary system</text>
<text class="t" x="665" y="1330">N52</text><text class="t" x="743" y="1330">Male erectile dysfunction</text><text class="t" x="1156" y="1330">Diseases of the genitourinary system</text>
<text class="t" x="665" y="1354">H01</text><text class="t" x="743" y="1354">Other inflammation of eyelid</text><text class="t" x="1156" y="1354">Diseases of the ear and mastoid process</text>
<text class="t" x="665" y="1377">H04</text><text class="t" x="743" y="1377">Disorders of lacrimal system</text><text class="t" x="1156" y="1377">Diseases of the ear and mastoid process</text>
<line class="sep" x1="661" y1="1383" x2="1616" y2="1383"/>
<rect class="band" x="661" y="1385" width="955" height="22"/>
<text class="tb tc" x="1138" y="1401">Top five most prevalent disease trajectories followed by patients in the cluster</text>
<text class="tb" x="665" y="1423">#patient</text><text class="tb tc" x="1176" y="1423">Trajectory</text>
<line class="hl" x1="661" y1="1430" x2="1616" y2="1430"/>
<text class="t" x="665" y="1446">138</text><text class="t" x="743" y="1446">G31 → F01 (Vascular dementia) → G30</text>
<text class="t" x="665" y="1468">76</text><text class="t" x="743" y="1468">G31 → F09 (Unspecified mental disorder due to known physiological condition) → F07 (Personality and behavioral</text>
<text class="t" x="743" y="1490">disorders due to known physiological condition) → G30</text>
<text class="t" x="665" y="1512">61</text><text class="t" x="743" y="1512">H04 (Disorders of lacrimal system) → G31 → G30</text>
<text class="t" x="665" y="1534">57</text><text class="t" x="743" y="1534">G45 (Transient cerebral ischemic attacks and related syndromes) → G31 → G30</text>
<text class="t" x="665" y="1555">46</text><text class="t" x="743" y="1555">N95 (Menopausal and other perimenopausal disorders) → G31 → G30</text>
<line class="sep" x1="661" y1="1561" x2="1616" y2="1561"/>
<rect class="band" x="661" y="1562" width="955" height="22"/>
<text class="tb tc" x="1138" y="1578">Decomposition of the central node (G31: Other degenerative diseases of nervous system)</text>
<text class="tb" x="665" y="1600">ICD</text><text class="tb" x="743" y="1600">Description</text><text class="tb" x="1156" y="1600">Frequency</text>
<line class="hl" x1="661" y1="1607" x2="1616" y2="1607"/>
<text class="t" x="665" y="1623">G31.0</text><text class="t" x="743" y="1623">Frontotemporal dementia</text>
<text class="t" x="678" y="1646">G31.01</text><text class="t" x="743" y="1646">Pick's disease</text><text class="t" x="1156" y="1646">29 (4.97%)</text>
<text class="t" x="678" y="1670">G31.09</text><text class="t" x="743" y="1670">Other frontotemporal neurocognitive disorder</text><text class="t" x="1156" y="1670">41 (7.02%)</text>
<text class="t" x="665" y="1693">G31.1</text><text class="t" x="743" y="1693">Senile degeneration of brain, not elsewhere classified</text><text class="t" x="1156" y="1693">3 (0.51%)</text>
<text class="t" x="665" y="1717">G31.2</text><text class="t" x="743" y="1717">Degeneration of nervous system due to alcohol</text><text class="t" x="1156" y="1717">2 (0.34%)</text>
<text class="t" x="665" y="1740">G31.8</text><text class="t" x="743" y="1740">Other specified degenerative diseases of nervous system</text>
<text class="t" x="678" y="1764">G31.81</text><text class="t" x="743" y="1764">Alpers disease</text><text class="t" x="1156" y="1764">1 (0.17%)</text>
<text class="t" x="678" y="1787">G31.83</text><text class="t" x="743" y="1787">Neurocognitive disorder with Lewy bodies</text><text class="t" x="1156" y="1787">57 (9.76%)</text>
<text class="t r" x="678" y="1811">G31.84</text><text class="t r" x="743" y="1811">Mild cognitive impairment of uncertain or unknown</text><text class="t r" x="1156" y="1811">411 (70.4%)</text>
<text class="t" x="678" y="1834">G31.85</text><text class="t" x="743" y="1834">Corticobasal degeneration</text><text class="t" x="1156" y="1834">3 (0.51%)</text>
<text class="t" x="678" y="1858">G31.89</text><text class="t" x="743" y="1858">Other specified degenerative diseases of nervous system</text><text class="t" x="1156" y="1858">42 (7.19%)</text>
<text class="t" x="665" y="1881">G31.9</text><text class="t" x="743" y="1881">Degenerative disease of nervous system, unspecified</text><text class="t" x="1156" y="1881">151 (25.9%)</text>
</g>

<g id="panel-d">
<text class="pl" x="2" y="1934">d</text>
<text class="st" x="253" y="1905">Simplified trajectory network</text>
<g id="d-nodes">
<g id="d-G62"><circle class="cG" cx="49" cy="2045" r="15"/><text class="nl" x="43" y="2064">G62</text></g>
<g id="d-N39"><circle class="cN" cx="120" cy="2071" r="15"/><text class="nl" x="135" y="2065">N39</text></g>
<g id="d-N30"><circle class="cN" cx="49" cy="2114" r="15"/><text class="nl" x="44" y="2132">N30</text></g>
<g id="d-I10"><circle class="cI" cx="49" cy="2246" r="15"/><text class="nl" x="39" y="2265">I10</text></g>
<g id="d-M79"><circle class="cM" cx="193" cy="2196" r="15"/><text class="nl" x="164" y="2197">M79</text></g>
<g id="d-E78"><circle class="cE" cx="192" cy="2238" r="15"/><text class="nl" x="189" y="2270">E78</text></g>
<g id="d-M25"><circle class="cM" cx="264" cy="2254" r="15"/><text class="nl" x="250" y="2273">M25</text></g>
<g id="d-Z98"><circle class="cZ" cx="336" cy="2254" r="15"/><text class="nl" x="320" y="2273">Z98</text></g>
<g id="d-D64"><circle class="cD" cx="336" cy="2153" r="15"/><text class="nl" x="346" y="2151">D64</text></g>
<g id="d-F03"><circle class="cF" cx="408" cy="2220" r="15"/><text class="nl" x="394" y="2239">F03</text></g>
<g id="d-F01"><circle class="cF" cx="480" cy="2145" r="15"/><text class="nl" x="490" y="2142">F01</text></g>
<g id="d-F02"><circle class="cF" cx="551" cy="2229" r="15"/><text class="nl" x="562" y="2224">F02</text></g>
<g id="d-I67"><circle class="cI" cx="406" cy="2372" r="15"/><text class="nl red" x="425" y="2370">I67</text></g>
<g id="d-N52"><circle class="cN" cx="406" cy="2413" r="15"/><text class="nl" x="393" y="2432">N52</text></g>
<g id="d-F09"><circle class="cF" cx="551" cy="2413" r="15"/><text class="nl" x="563" y="2432">F09</text></g>
<g id="d-G30"><circle class="cG" cx="622" cy="2413" r="15"/><text class="nl" x="622" y="2439">G30</text></g>
<g id="d-G31"><circle class="cG" cx="480" cy="2496" r="15"/><text class="nl" x="477" y="2517">G31</text></g>
<g id="d-C61"><circle class="cC" cx="49" cy="2340" r="15"/><text class="nl" x="49" y="2337">C61</text></g>
<g id="d-H93"><circle class="cH" cx="49" cy="2371" r="15"/><text class="nl" x="51" y="2369">H93</text></g>
<g id="d-H81"><circle class="cH" cx="49" cy="2403" r="15"/><text class="nl" x="51" y="2400">H81</text></g>
<g id="d-N95"><circle class="cN" cx="49" cy="2435" r="15"/><text class="nl" x="50" y="2432">N95</text></g>
<g id="d-H01"><circle class="cH" cx="49" cy="2466" r="15"/><text class="nl" x="50" y="2463">H01</text></g>
<g id="d-H04"><circle class="cH" cx="49" cy="2498" r="15"/><text class="nl" x="51" y="2495">H04</text></g>
<g id="d-J34"><circle class="cJ" cx="51" cy="2530" r="15"/><text class="nl" x="51" y="2527">J34</text></g>
</g>
<g id="d-connectors">
<line class="e w1" x1="49" y1="2045" x2="480" y2="2145"/>
<line class="e w1" x1="49" y1="2114" x2="120" y2="2071"/>
<line class="e w1" x1="49" y1="2114" x2="480" y2="2145"/>
<line class="e w1" x1="49" y1="2114" x2="551" y2="2229"/>
<line class="e w1" x1="49" y1="2246" x2="120" y2="2071"/>
<line class="e w1" x1="120" y1="2071" x2="480" y2="2145"/>
<line class="e w1" x1="120" y1="2071" x2="336" y2="2153"/>
<line class="e w1" x1="120" y1="2071" x2="193" y2="2196"/>
<line class="e w25" x1="193" y1="2196" x2="336" y2="2153"/>
<line class="e w1" x1="193" y1="2196" x2="408" y2="2220"/>
<line class="e w1" x1="193" y1="2196" x2="551" y2="2229"/>
<line class="e w25" x1="193" y1="2196" x2="406" y2="2372"/>
<line class="e w15" x1="49" y1="2246" x2="193" y2="2196"/>
<line class="e w15" x1="49" y1="2246" x2="336" y2="2153"/>
<line class="e w25" x1="49" y1="2246" x2="192" y2="2238"/>
<line class="e w25" x1="49" y1="2246" x2="264" y2="2254"/>
<line class="e w1" x1="49" y1="2246" x2="408" y2="2220"/>
<line class="e w1" x1="49" y1="2246" x2="406" y2="2413"/>
<line class="e w1" x1="192" y1="2238" x2="336" y2="2153"/>
<line class="e w1" x1="192" y1="2238" x2="551" y2="2229"/>
<line class="e w1" x1="192" y1="2238" x2="264" y2="2254"/>
<line class="e w1" x1="192" y1="2238" x2="406" y2="2413"/>
<line class="e d w15" x1="264" y1="2254" x2="336" y2="2153"/>
<line class="e w25" x1="264" y1="2254" x2="336" y2="2254"/>
<line class="e w1" x1="264" y1="2254" x2="480" y2="2145"/>
<line class="e w1" x1="264" y1="2254" x2="551" y2="2229"/>
<line class="e w1" x1="336" y1="2254" x2="480" y2="2145"/>
<line class="e w1" x1="336" y1="2254" x2="551" y2="2229"/>
<line class="e w15" x1="336" y1="2254" x2="406" y2="2372"/>
<line class="e w1" x1="336" y1="2153" x2="480" y2="2145"/>
<line class="e w25" x1="336" y1="2153" x2="408" y2="2220"/>
<line class="e w1" x1="408" y1="2220" x2="480" y2="2145"/>
<line class="e w25" x1="408" y1="2220" x2="622" y2="2413"/>
<line class="e w5" x1="480" y1="2145" x2="622" y2="2413"/>
<line class="e w4" x1="551" y1="2229" x2="622" y2="2413"/>
<line class="e w1" x1="406" y1="2372" x2="480" y2="2145"/>
<line class="e w4" x1="406" y1="2372" x2="622" y2="2413"/>
<line class="e w1" x1="406" y1="2372" x2="551" y2="2413"/>
<line class="e w1" x1="406" y1="2413" x2="551" y2="2413"/>
<line class="e w1" x1="406" y1="2413" x2="480" y2="2496"/>
<line class="e d w15" x1="480" y1="2496" x2="406" y2="2372"/>
<line class="e w1" x1="480" y1="2496" x2="551" y2="2413"/>
<line class="e w2" x1="480" y1="2496" x2="622" y2="2413"/>
<line class="e w1" x1="551" y1="2413" x2="622" y2="2413"/>
<line class="e w1" x1="49" y1="2340" x2="406" y2="2413"/>
<line class="e w1" x1="49" y1="2371" x2="480" y2="2496"/>
<line class="e w1" x1="49" y1="2403" x2="480" y2="2496"/>
<line class="e w1" x1="49" y1="2435" x2="480" y2="2496"/>
<line class="e w1" x1="49" y1="2466" x2="480" y2="2496"/>
<line class="e w1" x1="49" y1="2498" x2="480" y2="2496"/>
<line class="e w1" x1="51" y1="2530" x2="480" y2="2496"/>
</g>
<g id="d-edge-labels">
<text class="el" x="229" y="2171">t=1.89 yrs</text><text class="el" x="224" y="2180">n=114</text>
<text class="el" x="521" y="2174">t=0.35 yrs</text><text class="el" x="519" y="2183">n=448</text>
<text class="el" x="378" y="2286">t=2.67 yrs</text><text class="el" x="376" y="2296">n=78</text>
<text class="el" x="302" y="2302">t=2.45 yrs</text><text class="el" x="305" y="2312">n=138</text>
<text class="el" x="510" y="2289">t=1.28 yrs</text><text class="el" x="508" y="2298">n=231</text>
<text class="el" x="607" y="2304">t=0.57 yrs</text><text class="el" x="604" y="2313">n=359</text>
<text class="el" x="229" y="2322">t=1.47 yrs</text><text class="el" x="224" y="2332">n=49</text>
<text class="el" x="441" y="2320">t=1.07 yrs</text><text class="el" x="438" y="2330">n=216</text>
<text class="el" x="514" y="2377">t=1.06 yrs</text><text class="el" x="511" y="2387">n=398</text>
<text class="el" x="479" y="2411">t=3.10 yrs</text><text class="el" x="474" y="2421">n=45</text>
<text class="el" x="504" y="2451">t=0.86 yrs</text><text class="el" x="500" y="2461">n=78</text>
<text class="el" x="575" y="2464">t=1.46 yrs</text><text class="el" x="573" y="2474">n=150</text>
</g>
<g id="d-legend">
<text class="lgt" x="369" y="1962">Number of patients</text>
<line class="la" x1="371" y1="1981" x2="388" y2="1981" stroke-width="1.5"/><text class="lg" x="398" y="1985">100</text>
<line class="la" x1="371" y1="2001" x2="388" y2="2001" stroke-width="2.8"/><text class="lg" x="398" y="2005">200</text>
<line class="la" x1="371" y1="2022" x2="388" y2="2022" stroke-width="4"/><text class="lg" x="398" y="2026">300</text>
<text class="lgt" x="514" y="1919">ICD chapter</text>
<circle class="cC" cx="527" cy="1939" r="12"/><text class="lg" x="553" y="1943">C</text>
<circle class="cD" cx="527" cy="1968" r="12"/><text class="lg" x="553" y="1972">D</text>
<circle class="cE" cx="527" cy="1996" r="12"/><text class="lg" x="553" y="2000">E</text>
<circle class="cF" cx="527" cy="2025" r="12"/><text class="lg" x="553" y="2029">F</text>
<circle class="cG" cx="527" cy="2054" r="12"/><text class="lg" x="553" y="2058">G</text>
<circle class="cH" cx="527" cy="2084" r="12"/><text class="lg" x="553" y="2088">H</text>
<circle class="cI" cx="580" cy="1939" r="12"/><text class="lg" x="603" y="1943">I</text>
<circle class="cJ" cx="580" cy="1968" r="12"/><text class="lg" x="603" y="1972">J</text>
<circle class="cM" cx="580" cy="1996" r="12"/><text class="lg" x="603" y="2000">M</text>
<circle class="cN" cx="580" cy="2025" r="12"/><text class="lg" x="603" y="2029">N</text>
<circle class="cZ" cx="580" cy="2054" r="12"/><text class="lg" x="603" y="2058">Z</text>
</g>
</g>

<g id="table-d">
<rect class="band" x="661" y="1889" width="955" height="21"/>
<text class="tb tc" x="1138" y="1904">Top five nodes lead to the central node (I67: Other cerebrovascular diseases)</text>
<text class="tb" x="665" y="1926">ICD</text><text class="tb" x="743" y="1926">Description</text><text class="tb" x="1156" y="1926">Chapter</text>
<line class="hl" x1="661" y1="1934" x2="1616" y2="1934"/>
<text class="t" x="665" y="1950">M25</text><text class="t" x="743" y="1950">Other joint disorder, not elsewhere classified</text><text class="t" x="1156" y="1950">Diseases of the musculoskeletal system and connective tissue</text>
<text class="t" x="665" y="1974">M79</text><text class="t" x="743" y="1974">Other and unspecified soft tissue disorders, not elsewhere</text>
<text class="t" x="743" y="1995">classified</text>
<text class="t" x="665" y="2020">G31</text><text class="t" x="743" y="2020">Other degenerative diseases of nervous system, not</text><text class="t" x="1156" y="2020">Diseases of the nervous system</text>
<text class="t" x="743" y="2042">elsewhere classified</text>
<text class="t" x="665" y="2067">Z98</text><text class="t" x="743" y="2067">Other postprocedural states</text><text class="t" x="1156" y="2067">Factors influencing health status and contact with health services</text>
<text class="t" x="665" y="2091">M54</text><text class="t" x="743" y="2091">Dorsalgia</text><text class="t" x="1156" y="2091">Diseases of the musculoskeletal system and connective tissue</text>
<line class="sep" x1="661" y1="2098" x2="1616" y2="2098"/>
<rect class="band" x="661" y="2099" width="955" height="21"/>
<text class="tb tc" x="1138" y="2114">Top five most prevalent disease trajectories followed by patients in the cluster</text>
<text class="tb" x="665" y="2136">#patient</text><text class="tb tc" x="1176" y="2136">Trajectory</text>
<line class="hl" x1="661" y1="2143" x2="1616" y2="2143"/>
<text class="t" x="665" y="2160">197</text><text class="t" x="743" y="2160">I67 → F01 (Vascular dementia) → G30</text>
<text class="t" x="665" y="2182">103</text><text class="t" x="743" y="2182">I10 → D64 (Other anaemias) → F03 → G30</text>
<text class="t" x="665" y="2204">101</text><text class="t" x="743" y="2204">M25 (Other joint disorder, not elsewhere classified) → I67 → G30</text>
<text class="t" x="665" y="2226">81</text><text class="t" x="743" y="2226">M79 (Other and unspecified soft tissue disorders, not elsewhere classified) → I67 → G30</text>
<text class="t" x="665" y="2248">69</text><text class="t" x="743" y="2248">Z98 (Other postprocedural states) → I67 → G30</text>
<line class="sep" x1="661" y1="2254" x2="1616" y2="2254"/>
<rect class="band" x="661" y="2255" width="955" height="21"/>
<text class="tb tc" x="1138" y="2270">Decomposition of the central node (I67: Other cerebrovascular diseases)</text>
<text class="tb" x="665" y="2292">ICD</text><text class="tb" x="743" y="2292">Description</text><text class="tb" x="1156" y="2292">Frequency</text>
<line class="hl" x1="661" y1="2298" x2="1616" y2="2298"/>
<text class="t" x="665" y="2315">I67.1</text><text class="t" x="743" y="2315">Cerebral aneurysm, nonruptured</text><text class="t" x="1156" y="2315">33 (8.29%)</text>
<text class="t" x="665" y="2338">I67.2</text><text class="t" x="743" y="2338">Cerebral atherosclerosis</text><text class="t" x="1156" y="2338">34 (8.54%)</text>
<text class="t" x="665" y="2362">I67.4</text><text class="t" x="743" y="2362">Hypertensive encephalopathy</text><text class="t" x="1156" y="2362">3 (0.75%)</text>
<text class="t" x="665" y="2385">I67.6</text><text class="t" x="743" y="2385">Nonpyogenic thrombosis of intracranial venous system</text><text class="t" x="1156" y="2385">1 (0.25%)</text>
<text class="t" x="665" y="2409">I67.8</text><text class="t" x="743" y="2409">Other specified cerebrovascular diseases</text>
<text class="t" x="678" y="2432">I67.81</text><text class="t" x="743" y="2432">Acute cerebrovascular insufficiency</text><text class="t" x="1156" y="2432">7 (1.76%)</text>
<text class="t" x="678" y="2456">I67.82</text><text class="t" x="743" y="2456">Cerebral ischemia</text><text class="t" x="1156" y="2456">146 (36.7%)</text>
<text class="t" x="678" y="2479">I67.83</text><text class="t" x="743" y="2479">Posterior reversible encephalopathy syndrome</text><text class="t" x="1156" y="2479">2 (0.50%)</text>
<text class="t" x="678" y="2503">I67.848</text><text class="t" x="743" y="2503">Other cerebrovascular vasospasm and vasoconstriction</text><text class="t" x="1156" y="2503">2 (0.50%)</text>
<text class="t" x="678" y="2526">I67.89</text><text class="t" x="743" y="2526">Other cerebrovascular disease</text><text class="t" x="1156" y="2526">49 (12.3%)</text>
<text class="t r" x="665" y="2549">I67.9</text><text class="t r" x="743" y="2549">Cerebrovascular disease, unspecified</text><text class="t r" x="1156" y="2549">173 (43.5%)</text>
</g>
</svg>
